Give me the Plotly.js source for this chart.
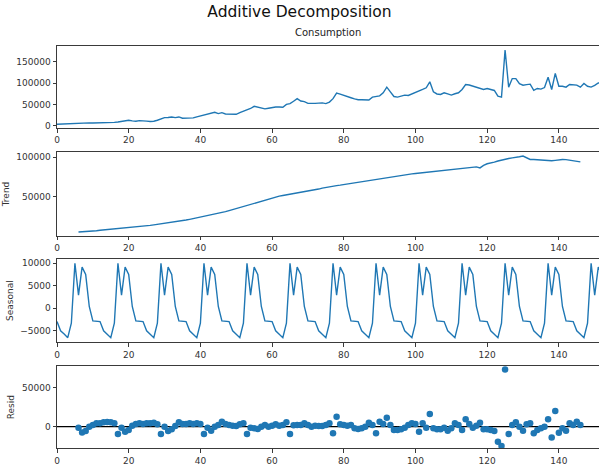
<!DOCTYPE html>
<html>
<head>
<meta charset="utf-8">
<script src="https://cdn.plot.ly/plotly-3.0.1.min.js"></script>
<style>html,body{margin:0;padding:0;background:#fff;}#chart{width:599px;height:468px;}</style>
</head>
<body>
<div id="chart"></div>
<script>
// ---- Data ----
const xTickVals = [0, 20, 40, 60, 80, 100, 120, 140];

const observed = [
  4200, 4500, 5000, 5500, 6000, 7000, 7500, 8000, 7800, 7300,
  7000, 7200, 7300, 7800, 7000, 7300, 8500, 9500, 11200, 12500,
  13500, 12000, 11200, 12500, 12700, 11500, 10500, 11000, 13500, 16000,
  19700, 20000, 21200, 19700, 21200, 18100, 18500, 18900, 18900, 21500,
  23500, 25900, 27500, 29000, 32100, 29000, 31300, 28200, 27400, 26500,
  27400, 31300, 34000, 37000, 41000, 46000, 43500, 42000, 40000, 41500,
  43500, 44500, 44500, 44000, 50700, 52200, 58000, 64000, 58500, 57000,
  53000, 52500, 53000, 53500, 54000, 52500, 56000, 64000, 77000, 74500,
  72300, 69000, 66200, 63500, 61500, 61500, 61500, 61000, 67700, 69300,
  70500, 77800, 91000, 80000, 69000, 67700, 70000, 72300, 71500, 75000,
  77800, 80500, 85500, 89500, 103500, 80000, 75000, 73900, 77800, 75000,
  72300, 75500, 77800, 85500, 97100, 96000, 93200, 89500, 87500, 85500,
  87800, 86000, 83200, 70000, 67700, 178000, 91000, 111000, 111000, 99000,
  95600, 97000, 98000, 83300, 87900, 86300, 90000, 114000, 85500, 123000,
  93200, 93000, 91000, 97100, 96000, 95600, 91000, 99500, 93000, 91000,
  95000, 101000, 100000
];

const trend = [
  null, null, null, null, null, null, 5100, 5300, 5600, 6000,
  6400, 6800, 7300, 7700, 8100, 8500, 8900, 9300, 9700, 10000,
  10200, 10600, 11000, 11500, 12100, 12800, 13500, 14200, 14800, 15400,
  16000, 16600, 17200, 17900, 18700, 19500, 20300, 21200, 22100, 23000,
  23900, 24800, 25700, 26600, 27500, 28400, 29600, 30900, 32200, 33500,
  34800, 36100, 37300, 38600, 39900, 41200, 42600, 44100, 45600, 47100,
  48600, 49600, 50500, 51400, 52200, 52900, 53600, 54300, 55000, 55700,
  56400, 57100, 58300, 59500, 60700, 61700, 62500, 63200, 63900, 64500,
  65200, 66000, 66800, 67500, 68400, 69100, 69900, 70700, 71500, 72400,
  73000, 73700, 74400, 75100, 75800, 76400, 77000, 77600, 78100, 78700,
  79200, 79700, 80200, 80600, 81000, 81500, 82000, 82400, 82900, 83600,
  84100, 84300, 85000, 85700, 86300, 87000, 87400, 87600, 86300, 89500,
  91500, 92300, 93500, 95000, 96300, 97300, 98200, 99000, 99400, 100400,
  101200, 98800, 96900, 96900, 96500, 96000, 95500, 95200, 95300, 95800,
  96500, 96900, 96700, 96000, 95300, 94500, 93900, null, null, null,
  null, null, null
];

const seasonal = [
  -2950, -5000, -5700, -6500, -3300, 9950, 2900, 9100, 7500, 400, -2800, -2950,
  -2950, -5000, -5700, -6500, -3300, 9950, 2900, 9100, 7500, 400, -2800, -2950,
  -2950, -5000, -5700, -6500, -3300, 9950, 2900, 9100, 7500, 400, -2800, -2950,
  -2950, -5000, -5700, -6500, -3300, 9950, 2900, 9100, 7500, 400, -2800, -2950,
  -2950, -5000, -5700, -6500, -3300, 9950, 2900, 9100, 7500, 400, -2800, -2950,
  -2950, -5000, -5700, -6500, -3300, 9950, 2900, 9100, 7500, 400, -2800, -2950,
  -2950, -5000, -5700, -6500, -3300, 9950, 2900, 9100, 7500, 400, -2800, -2950,
  -2950, -5000, -5700, -6500, -3300, 9950, 2900, 9100, 7500, 400, -2800, -2950,
  -2950, -5000, -5700, -6500, -3300, 9950, 2900, 9100, 7500, 400, -2800, -2950,
  -2950, -5000, -5700, -6500, -3300, 9950, 2900, 9100, 7500, 400, -2800, -2950,
  -2950, -5000, -5700, -6500, -3300, 9950, 2900, 9100, 7500, 400, -2800, -2950,
  -2950, -5000, -5700, -6500, -3300, 9950, 2900, 9100, 7500, 400, -2800, -2950,
  -2950, -5000, -5700, -6500, -3300, 9950, 2900, 9100, 7500
];

const resid = [
  null, null, null, null, null, null, -1300, -7300, -5600, 0,
  2100, 4300, 4300, 5600, 6000, 5600, 4300, -9400, -1300, -6400,
  -4300, 1300, 3400, 4300, 3400, 4300, 4300, 5100, 3000, -9400,
  0, -5600, -3400, 900, 5600, 3400, 3400, 4300, 3400, 4300,
  3400, -9400, -1300, -5100, 0, 2100, 6400, 3400, 2100, 1300,
  900, 3000, 4300, -9400, -1300, -2100, -3000, 0, 2100, 0,
  1300, 3000, 1300, 2100, 5600, -9400, 1700, 2100, 2100, 4300,
  2100, 0, 1300, 900, 900, 2100, 4300, -8500, 12800, 3000,
  2100, 1300, 2100, -2100, -3000, -2100, 0, 5100, 2100, -8500,
  6400, 3400, 11500, 2100, -4300, -4300, -3400, -1300, 2100, 4300,
  3400, -6400, 4300, -1300, 16200, -2100, -3400, -3400, -1300, -5100,
  -2100, 4300, 2100, -4300, 9400, 3400, -1300, 1300, 5100, -3400,
  -3400, -4300, -5600, -19200, -24800, 73400, -9400, 2100, 5600, 0,
  -5100, 3000, 4300, -8500, -4300, -2100, 0, 9400, -13700, 20100,
  -7700, -2100, -5100, 4300, 2100, 6400, 2100, null, null, null,
  null, null, null
];

const idx = observed.map((_, i) => i);

// ---- Styling ----
const blue = '#1f77b4';
const frame = '#3a3a3a';
const fontFam = 'DejaVu Sans, sans-serif';
const H = 468, W = 599;
const dom = (top, bottom) => [1 - bottom / H, 1 - top / H];

const traces = [
  {x: idx, y: observed, xaxis: 'x', yaxis: 'y', mode: 'lines', line: {color: blue, width: 1.4}},
  {x: idx, y: trend, xaxis: 'x2', yaxis: 'y2', mode: 'lines', line: {color: blue, width: 1.4}, connectgaps: false},
  {x: idx, y: seasonal, xaxis: 'x3', yaxis: 'y3', mode: 'lines', line: {color: blue, width: 1.4}},
  {x: idx, y: resid, xaxis: 'x4', yaxis: 'y4', mode: 'markers', marker: {color: blue, size: 6.5}}
];

function xax(anchor) {
  return {
    anchor: anchor, domain: [57 / W, 1], range: [0, 151.2],
    tickvals: xTickVals, ticks: 'outside', ticklen: 3.5, tickwidth: 1, tickcolor: frame,
    showline: true, linecolor: frame, linewidth: 1, mirror: true,
    showgrid: false, zeroline: false,
    tickfont: {family: fontFam, size: 9, color: '#333'}
  };
}
function yax(anchor, domain, range, ticks, title) {
  const a = {
    anchor: anchor, domain: domain, range: range,
    tickvals: ticks, tickformat: 'd', ticks: 'outside', ticklen: 3.5, tickwidth: 1, tickcolor: frame,
    showline: true, linecolor: frame, linewidth: 1, mirror: false,
    showgrid: false, zeroline: false,
    tickfont: {family: fontFam, size: 9, color: '#333'}
  };
  if (title) a.title = {text: title, font: {family: fontFam, size: 9, color: '#333'}, standoff: 5};
  return a;
}

const layout = {
  width: W, height: H,
  margin: {l: 0, r: 0, t: 0, b: 0},
  paper_bgcolor: '#fff', plot_bgcolor: '#fff',
  showlegend: false,
  title: {text: 'Additive Decomposition', x: 0.5, xanchor: 'center', y: 1 - 12 / H, yanchor: 'middle',
          font: {family: fontFam, size: 15.5, color: '#111'}},
  xaxis: xax('y'), xaxis2: xax('y2'), xaxis3: xax('y3'), xaxis4: xax('y4'),
  yaxis: yax('x', dom(45.7, 128), [-4700, 188000], [0, 50000, 100000, 150000], null),
  yaxis2: yax('x2', dom(152.3, 235.7), [500, 106000], [50000, 100000], 'Trend'),
  yaxis3: yax('x3', dom(259, 342.3), [-7530, 10900], [-5000, 0, 5000, 10000], 'Seasonal'),
  yaxis4: yax('x4', dom(366, 448.3), [-27700, 77800], [0, 50000], 'Resid'),
  annotations: [
    {text: 'Consumption', xref: 'paper', yref: 'paper', x: (57 + W) / 2 / W, y: 1 - 33 / H,
     xanchor: 'center', yanchor: 'middle', showarrow: false,
     font: {family: fontFam, size: 10, color: '#222'}}
  ],
  shapes: [
    {type: 'line', xref: 'x4 domain', yref: 'y4', x0: 0, x1: 1, y0: 0, y1: 0,
     line: {color: '#000', width: 1.2}, layer: 'below'}
  ]
};

Plotly.newPlot('chart', traces, layout, {displayModeBar: false, staticPlot: true});
</script>
</body>
</html>
